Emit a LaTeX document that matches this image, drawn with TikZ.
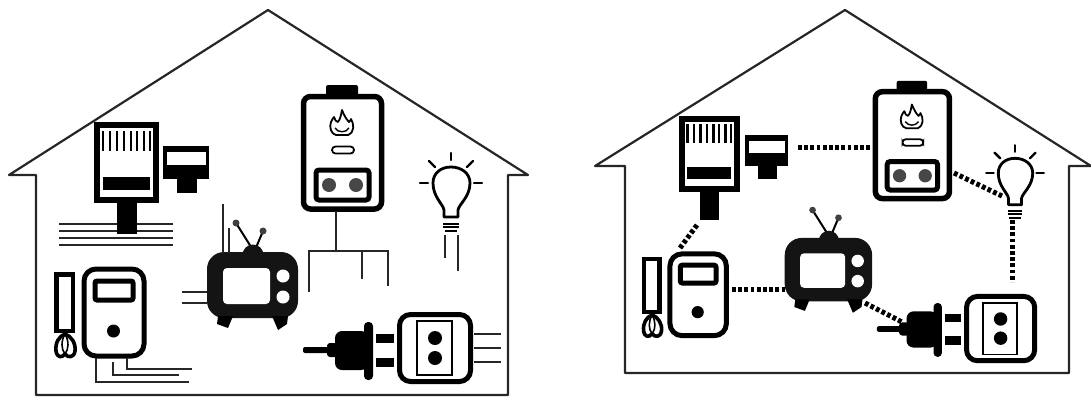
\documentclass[tikz,border=0pt]{standalone}
\tikzset{
  house/.style={line width=2.2pt,line join=round,black!85},
  wire/.style={line width=2pt,black!85},
  link/.style={line width=5pt,black,dash pattern=on 3.8pt off 2.4pt},
  ray/.style={line width=2.4pt,black,line cap=round},
}
\newcommand{\iconjack}{
  \draw[line width=6pt] (97,125) rectangle (156,200);
  \foreach \px in {103,110,117,124,131,137,144,150}
    \draw[line width=2.4pt] (\px,131) -- (\px,151);
  \fill (103,177) rectangle (150,190);
  \fill (117,200) rectangle (137,234);
}
\newcommand{\iconsmall}{
  \fill (163,146) rectangle (209,179);
  \fill[white] (167,152) rectangle (206,165);
  \fill (177,179) rectangle (197,193);
}
\newcommand{\iconphone}{
  \draw[line width=5pt,rounded corners=12pt] (84,269) rectangle (144,356);
  \draw[line width=5pt,rounded corners=2pt] (95,281) rectangle (133,300);
  \fill (113.5,331) circle (6.5);
  \draw[line width=4.5pt] (56.5,274.5) rectangle (73,331);
  \draw[line width=3.6pt,line join=round] (65,334) .. controls (59,336) and (55,343) .. (56,351)
     .. controls (57,358) and (62,358) .. (65,354) .. controls (68,358) and (74,358) .. (75,351)
     .. controls (76,343) and (71,336) .. (65,334) -- cycle;
  \draw[line width=1.6pt] (65,334) .. controls (61,341) and (61,349) .. (65,354)
     .. controls (69,349) and (69,341) .. (65,334);
}
\newcommand{\icontv}{
  \draw[line width=2pt] (236,223) -- (253,250);
  \draw[line width=2pt] (263,231) -- (255,250);
  \fill[black!75] (236,223) circle (3.5);
  \fill[black!75] (263,231) circle (3.5);
  \fill[black!92,rounded corners=17pt] (207,252) rectangle (298,318);
  \fill[black!92] (253,255) circle (10.5);
  \fill[white,rounded corners=4pt] (223,268) rectangle (270,304);
  \fill[white] (283,276) circle (6.5);
  \fill[white] (283,297) circle (6.5);
  \fill (218,316) -- (233,316) -- (228,328) -- (217,324) -- cycle;
  \fill (272,316) -- (288,316) -- (287,324) -- (278,330) -- cycle;
}
\newcommand{\iconheater}{
  \fill[rounded corners=2pt] (326,85) rectangle (358,97);
  \draw[line width=5.5pt,rounded corners=7pt,fill=white] (303.5,96.5) rectangle (381.5,209);
  \draw[line width=1.8pt,line join=round]
     (336,135) .. controls (331,134) and (329,127) .. (331,122)
     .. controls (332,120) and (333,118) .. (334,117) .. controls (335,120) and (336,122) .. (338,122)
     .. controls (341,118) and (341,114) .. (342,110) .. controls (344,115) and (346,119) .. (349,122)
     .. controls (350,121) and (351,120) .. (351,119) .. controls (354,124) and (355,132) .. (348,135) -- cycle;
  \draw[line width=1.4pt] (335,128) .. controls (338,133) and (346,133) .. (349,128);
  \draw[line width=1.8pt,rounded corners=3.5pt] (332,146.5) rectangle (354,153.5);
  \draw[line width=5pt,rounded corners=3pt] (316,170) rectangle (369,200);
  \fill[black!72] (329,185) circle (7);
  \fill[black!72] (356,185) circle (7);
}
\newcommand{\iconbulb}{
  \draw[line width=2.8pt,line join=round] (444,217) -- (444,210)
     .. controls (443,204) and (433,197) .. (433,183)
     .. controls (433,173) and (441,167) .. (451,167)
     .. controls (461,167) and (470,173) .. (470,183)
     .. controls (470,197) and (459,204) .. (458,210) -- (458,217) -- cycle;
  \draw[ray] (420,183) -- (428,183);
  \draw[ray] (474,183) -- (482,183);
  \draw[ray] (451,153) -- (451,160);
  \draw[ray] (429,161) -- (435,167);
  \draw[ray] (473,161) -- (467,167);
  \draw[line width=2pt] (443,224) -- (459,224);
  \draw[line width=2pt] (443,227) -- (459,227);
  \draw[line width=2pt] (445,231) -- (457,231);
}
\newcommand{\iconplug}{
  \fill[rounded corners=2pt] (303,347) rectangle (330,353);
  \fill[rounded corners=3pt] (327,343) rectangle (338,357);
  \fill[rounded corners=7pt] (335,331) rectangle (368,370);
  \fill[rounded corners=4pt] (364,322) rectangle (373,380);
  \fill (376,334) rectangle (394,343);
  \fill (376,358) rectangle (394,367);
}
\newcommand{\iconsocket}{
  \draw[line width=5pt,rounded corners=11pt] (399.5,314.5) rectangle (470.5,381.5);
  \draw[line width=1.7pt] (417,321) rectangle (452,375);
  \fill (435,338) circle (7);
  \fill (435,358) circle (7);
}
\begin{document}
\begin{tikzpicture}[x=1pt,y=-1pt]
\useasboundingbox (0,0) rectangle (1091,399);
% left house
\draw[house] (36,395) -- (36,175) -- (9,175) -- (268,10) -- (528,175) -- (508,175) -- (508,395) -- cycle;
\iconjack
\iconsmall
\iconphone
\icontv
\iconheater
\iconbulb
\iconplug
\iconsocket
% left wires
\foreach \wy in {224,231,238,245} \draw[wire] (59,\wy) -- (173,\wy);
\fill (117,200) rectangle (137,234);
\draw[wire] (96,358) -- (96,382) -- (189,382);
\draw[wire] (113,362) -- (113,375) -- (179,375);
\draw[wire] (127,358) -- (127,369) -- (192,369);
\draw[wire] (223,204) -- (223,253);
\draw[wire] (229,228) -- (229,253);
\draw[wire] (182,292) -- (207,292);
\draw[wire] (182,303) -- (207,303);
\draw[wire] (336,211) -- (336,251);
\draw[wire] (309,292) -- (309,251) -- (388,251) -- (388,286);
\draw[wire] (362,251) -- (362,279);
\draw[wire] (445,235) -- (445,258);
\draw[wire] (458,235) -- (458,271);
\draw[wire] (474,334) -- (501,334);
\draw[wire] (474,348) -- (501,348);
\draw[wire] (474,362) -- (501,362);
% right house
\draw[house] (625,373) -- (625,166) -- (595,166) -- (845,10) -- (1091,166) -- (1069,166) -- (1069,373) -- cycle;
\begin{scope}[shift={(591.6,2.5)},scale=.93]\iconjack\end{scope}
\begin{scope}[shift={(593.4,-0.8)},scale=.93]\iconsmall\end{scope}
\begin{scope}[shift={(591,1)},scale=.94]\iconphone\end{scope}
\begin{scope}[shift={(586,-4)},scale=.96]\icontv\end{scope}
\begin{scope}[shift={(587,0)},scale=.95]\iconheater\end{scope}
\begin{scope}[shift={(595.6,3)},scale=.93]\iconbulb\end{scope}
\begin{scope}[shift={(595,3.5)},scale=.93]\iconplug\end{scope}
\begin{scope}[shift={(583,-5.5)},scale=.96]\iconsocket\end{scope}
% right links
\coordinate (jackEnd) at (697,225);
\coordinate (phoneTop) at (680,248);
\coordinate (smallEnd) at (798,147);
\coordinate (heaterL) at (872,147);
\coordinate (phoneR) at (732,289);
\coordinate (tvL) at (785,289);
\coordinate (heaterR) at (954,173);
\coordinate (bulbL) at (1002,196);
\coordinate (bulbB) at (1012,220);
\coordinate (socketT) at (1012,282);
\coordinate (tvR) at (865,303);
\coordinate (plugL) at (902,322);
\draw[link] (jackEnd) -- (phoneTop);
\draw[link] (smallEnd) -- (heaterL);
\draw[link] (phoneR) -- (tvL);
\draw[link] (heaterR) -- (bulbL);
\draw[link] (bulbB) -- (socketT);
\draw[link] (tvR) -- (plugL);
\end{tikzpicture}
\end{document}
